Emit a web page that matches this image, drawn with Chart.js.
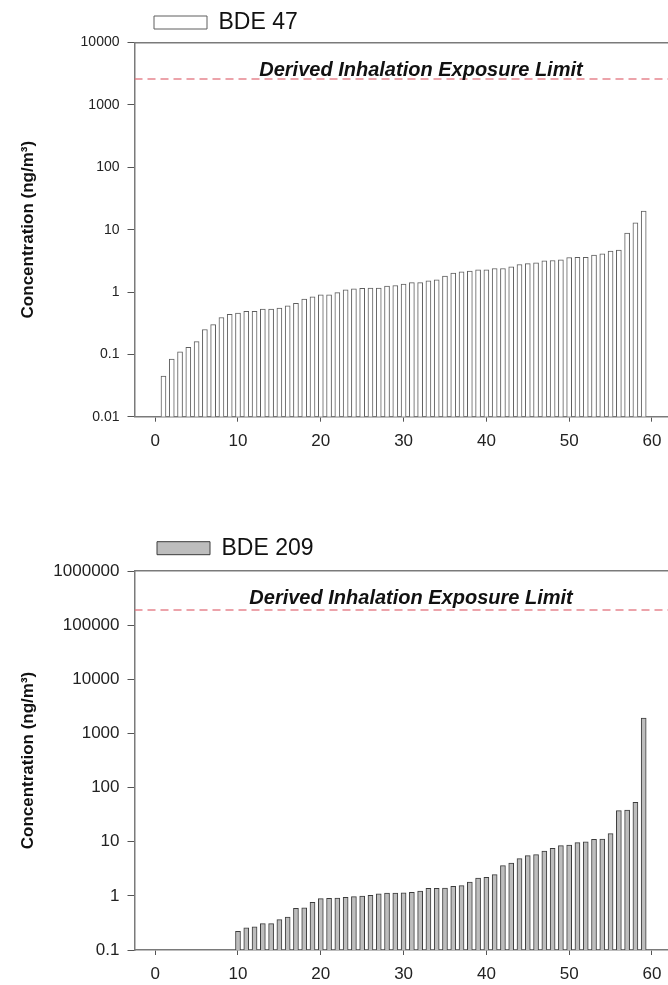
<!DOCTYPE html>
<html>
<head>
<meta charset="utf-8">
<title>BDE 47 / BDE 209 concentrations</title>
<script src="https://cdn.jsdelivr.net/npm/chart.js@4.4.1/dist/chart.umd.min.js"></script>
<style>
  html, body { margin: 0; padding: 0; background: #fff; overflow: hidden; }
  #wrap { position: relative; width: 668px; height: 985px; overflow: hidden; }
  canvas { position: absolute; left: 0; }
  #chart47 { top: 0; }
  #chart209 { top: 490px; }
</style>
</head>
<body>
<div id="wrap">
  <canvas id="chart47" width="671" height="490"></canvas>
  <canvas id="chart209" width="671" height="495"></canvas>
</div>
<script>
// sample rank (x) and concentration in ng/m3 (y)
const positions47 = [1, 2, 3, 4, 5, 6, 7, 8, 9, 10, 11, 12, 13, 14, 15, 16, 17, 18, 19, 20,
    21, 22, 23, 24, 25, 26, 27, 28, 29, 30, 31, 32, 33, 34, 35, 36, 37, 38, 39, 40,
    41, 42, 43, 44, 45, 46, 47, 48, 49, 50, 51, 52, 53, 54, 55, 56, 57, 58, 59];
const values47 = [0.045, 0.084, 0.11, 0.13, 0.16, 0.25, 0.30, 0.39, 0.44, 0.46,
    0.49, 0.49, 0.53, 0.53, 0.55, 0.60, 0.66, 0.77, 0.84, 0.90,
    0.90, 0.98, 1.08, 1.12, 1.14, 1.16, 1.16, 1.25, 1.27, 1.34,
    1.41, 1.41, 1.51, 1.57, 1.80, 2.01, 2.11, 2.16, 2.27, 2.27,
    2.38, 2.38, 2.53, 2.76, 2.86, 2.94, 3.16, 3.20, 3.28, 3.57,
    3.60, 3.60, 3.90, 4.09, 4.52, 4.69, 8.77, 12.9, 19.9];

const positions209 = [10, 11, 12, 13, 14, 15, 16, 17, 18, 19, 20, 21, 22, 23, 24, 25, 26, 27, 28, 29,
    30, 31, 32, 33, 34, 35, 36, 37, 38, 39, 40, 41, 42, 43, 44, 45, 46, 47, 48, 49,
    50, 51, 52, 53, 54, 55, 56, 57, 58, 59];
const values209 = [0.221, 0.258, 0.269, 0.306, 0.306, 0.363, 0.407, 0.589, 0.60, 0.76,
    0.887, 0.90, 0.913, 0.94, 0.966, 0.993, 1.02, 1.09, 1.13, 1.13,
    1.14, 1.16, 1.23, 1.37, 1.37, 1.39, 1.50, 1.54, 1.80, 2.14,
    2.20, 2.46, 3.61, 4.04, 4.86, 5.52, 5.76, 6.74, 7.55, 8.45,
    8.69, 9.59, 10.0, 11.1, 11.2, 14.1, 37.4, 38.5, 53.5, 1930];

const xTickValues = [0, 10, 20, 30, 40, 50, 60];
const yTicks47 = [0.01, 0.1, 1, 10, 100, 1000, 10000];
const yTicks209 = [0.1, 1, 10, 100, 1000, 10000, 100000, 1000000];

const limit47 = 2600;
const limit209 = 190000;
const limitText = 'Derived Inhalation Exposure Limit';
const yTitle = 'Concentration (ng/m\u00b3)';

const xMin = -2.5;
const xMax = 62;

Chart.defaults.font.family = '"Liberation Sans", Arial, sans-serif';
Chart.defaults.color = '#222';

// legend sits to the right of the axis in the original, move it there
const legendShift = {
    id: 'legendShift',
    afterLayout: function(chart, args, opts) {
        chart.legend.left += opts.dx || 0;
        chart.legend.top += opts.dy || 0;
    }
};

// bold italic caption just above the dashed limit line
const limitLabel = {
    id: 'limitLabel',
    afterDatasetsDraw: function(chart, args, opts) {
        const ctx = chart.ctx;
        const px = chart.scales.x.getPixelForValue(opts.x);
        const py = chart.scales.y.getPixelForValue(opts.y) - opts.gap;
        ctx.save();
        ctx.font = 'italic bold 20px "Liberation Sans", Arial, sans-serif';
        ctx.fillStyle = '#111';
        ctx.textAlign = 'center';
        ctx.textBaseline = 'alphabetic';
        ctx.fillText(opts.text, px, py);
        ctx.restore();
    }
};

function makeChart(canvasId, cfg) {
    const points = cfg.positions.map(function(p, i) {
        return { x: p, y: cfg.values[i] };
    });
    const yTicks = cfg.yTicks;

    return new Chart(document.getElementById(canvasId), {
        type: 'bar',
        data: {
            datasets: [{
                label: cfg.label,
                data: points,
                backgroundColor: cfg.fill,
                borderColor: cfg.edge,
                borderWidth: 1,
                barThickness: 5
            }, {
                type: 'line',
                label: 'limit',
                data: [{ x: xMin, y: cfg.limit }, { x: xMax, y: cfg.limit }],
                borderColor: 'rgba(226, 112, 122, 0.85)',
                borderWidth: 1.5,
                borderDash: [8, 5],
                pointRadius: 0,
                fill: false
            }]
        },
        plugins: [legendShift, limitLabel],
        options: {
            responsive: false,
            animation: false,
            events: [],
            layout: { padding: 0 },
            plugins: {
                legend: {
                    display: true,
                    position: 'top',
                    align: 'start',
                    labels: {
                        boxWidth: 53,
                        boxHeight: 13,
                        padding: cfg.legendPad,
                        color: '#111',
                        font: { size: 23 },
                        filter: function(item) { return item.datasetIndex === 0; }
                    }
                },
                tooltip: { enabled: false },
                legendShift: { dx: cfg.legendDx, dy: cfg.legendDy },
                limitLabel: { text: limitText, x: cfg.textX, y: cfg.limit, gap: cfg.textGap }
            },
            scales: {
                x: {
                    type: 'linear',
                    position: 'bottom',
                    offset: false,
                    min: xMin,
                    max: xMax,
                    afterBuildTicks: function(scale) {
                        scale.ticks = xTickValues.map(function(v) { return { value: v }; });
                    },
                    afterFit: function(scale) { scale.height = cfg.xAxisHeight; },
                    grid: { offset: false, drawOnChartArea: false, tickLength: 5, color: '#555' },
                    border: { color: '#7a7a7a', width: 1.5 },
                    ticks: { font: { size: 17 }, padding: 9.5, color: '#222', maxRotation: 0, autoSkip: false }
                },
                xTop: {
                    type: 'linear',
                    position: 'top',
                    offset: false,
                    min: xMin,
                    max: xMax,
                    grid: { display: false, drawTicks: false, offset: false },
                    ticks: { display: false },
                    border: { color: '#7a7a7a', width: 1.5 }
                },
                y: {
                    type: 'logarithmic',
                    min: yTicks[0],
                    max: yTicks[yTicks.length - 1],
                    afterBuildTicks: function(scale) {
                        scale.ticks = yTicks.map(function(v) { return { value: v }; });
                    },
                    afterFit: function(scale) { scale.width = 134.5; },
                    grid: { drawOnChartArea: false, tickLength: 7, color: '#555' },
                    border: { color: '#7a7a7a', width: 1.5 },
                    ticks: {
                        font: { size: cfg.yTickSize },
                        padding: 8,
                        color: '#222',
                        autoSkip: false,
                        callback: function(value) { return String(value); }
                    },
                    title: {
                        display: true,
                        text: yTitle,
                        color: '#111',
                        font: { size: 17, weight: 'bold' },
                        padding: { top: 18, bottom: 0 }
                    }
                }
            }
        }
    });
}

makeChart('chart47', {
    label: 'BDE 47',
    positions: positions47,
    values: values47,
    yTicks: yTicks47,
    limit: limit47,
    fill: '#ffffff',
    edge: '#5e5e5e',
    yTickSize: 14,
    xAxisHeight: 73.3,
    legendPad: 9.6,
    legendDx: 144.4,
    legendDy: 1.4,
    textX: 32.1,
    textGap: 3
});

makeChart('chart209', {
    label: 'BDE 209',
    positions: positions209,
    values: values209,
    yTicks: yTicks209,
    limit: limit209,
    fill: '#bdbdbd',
    edge: '#3c3c3c',
    yTickSize: 17,
    xAxisHeight: 35,
    legendPad: 48,
    legendDx: 109,
    legendDy: -1.3,
    textX: 30.9,
    textGap: 6
});
</script>
</body>
</html>
